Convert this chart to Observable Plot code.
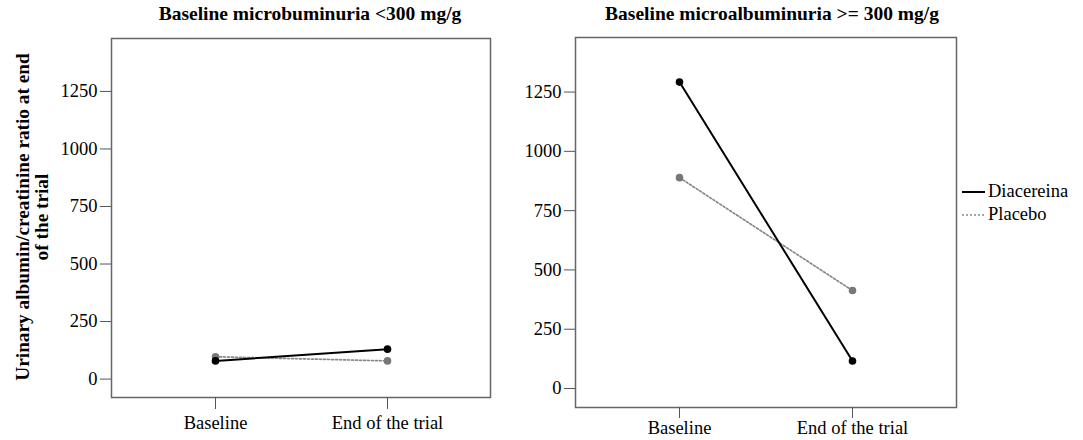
<!DOCTYPE html>
<html>
<head>
<meta charset="utf-8">
<script src="https://cdn.jsdelivr.net/npm/d3@7"></script>
<script src="https://cdn.jsdelivr.net/npm/@observablehq/plot@0.6"></script>
<style>
  body { margin: 0; background: #fff; }
  #wrap { position: relative; width: 1083px; height: 440px; font-family: "Liberation Serif", "Times New Roman", serif; color: #000; overflow: hidden; }
  .title { position: absolute; top: 3px; width: 500px; text-align: center; font-weight: bold; font-size: 19.5px; white-space: nowrap; }
  .ylab { position: absolute; left: 32px; top: 217px; transform: translate(-50%, -50%) rotate(-90deg); white-space: nowrap; text-align: center; font-weight: bold; font-size: 19.3px; line-height: 19px; }
  .chart { position: absolute; top: 0; }
  .legend { position: absolute; left: 962px; top: 180px; font-size: 18.5px; }
  .legend div { display: flex; align-items: center; height: 23px; }
  .legend svg { margin-right: 3px; }
</style>
</head>
<body>
<div id="wrap">
  <div class="title" style="left:60px;">Baseline microbuminuria &lt;300 mg/g</div>
  <div class="title" style="left:522px;">Baseline microalbuminuria &gt;= 300 mg/g</div>
  <div class="ylab">Urinary albumin/creatinine ratio at end<br>of the trial</div>
  <div class="legend">
    <div><svg width="23" height="10"><line x1="0" x2="23" y1="5" y2="5" stroke="#000" stroke-width="2"/></svg>Diacereina</div>
    <div><svg width="23" height="10"><line x1="0" x2="23" y1="5" y2="5" stroke="#888" stroke-width="1.5" stroke-dasharray="2,2"/></svg>Placebo</div>
  </div>
</div>
<script>
const timepoints = ["Baseline", "End of the trial"];
const seriesNames = ["Diacereina", "Placebo"];
const yTicks = [0, 250, 500, 750, 1000, 1250];

// Panel 1: baseline < 300 mg/g
const lowDiacereina = [79, 130];
const lowPlacebo = [97, 79];
// Panel 2: baseline >= 300 mg/g
const highDiacereina = [1292, 116];
const highPlacebo = [889, 413];

function rows(values, series) {
  return timepoints.map((t, i) => ({time: t, value: values[i], series}));
}

function panel(diac, plac, opts) {
  const dData = rows(diac, seriesNames[0]);
  const pData = rows(plac, seriesNames[1]);
  return Plot.plot({
    width: opts.width,
    height: 440,
    marginLeft: opts.ml,
    marginRight: opts.mr,
    marginTop: opts.mt,
    marginBottom: opts.mb,
    style: {fontFamily: "'Liberation Serif', 'Times New Roman', serif", fontSize: "18px", color: "#000", background: "transparent", overflow: "visible"},
    x: {type: "point", domain: timepoints, padding: 0.6, label: null},
    y: {domain: [-80, 1480], label: null},
    marks: [
      Plot.frame({stroke: "#666", strokeWidth: 1.5}),
      Plot.axisY({ticks: yTicks, tickFormat: d => String(d), tickSize: 11, tickPadding: 3, fontSize: 18.5, stroke: "#555", fill: "#000", label: null}),
      Plot.axisX({tickSize: opts.xsize, tickPadding: opts.xpad, fontSize: 18.5, stroke: "#555", fill: "#000", label: null}),
      Plot.line(pData, {x: "time", y: "value", stroke: "#888", strokeWidth: 1.7, strokeDasharray: "2,2"}),
      Plot.line(dData, {x: "time", y: "value", stroke: "#000", strokeWidth: 2}),
      Plot.dot(pData, {x: "time", y: "value", r: 3.8, fill: "#777", stroke: "none"}),
      Plot.dot(dData, {x: "time", y: "value", r: 3.8, fill: "#000", stroke: "none"})
    ]
  });
}

const wrap = document.getElementById("wrap");
const c1 = panel(lowDiacereina, lowPlacebo, {width: 500, ml: 111, mr: 10, mt: 38, mb: 43, xsize: 12, xpad: 6});
c1.classList.add("chart");
c1.style.left = "0px";
wrap.appendChild(c1);

const c2 = panel(highDiacereina, highPlacebo, {width: 583, ml: 75, mr: 127, mt: 37, mb: 33, xsize: 11, xpad: 2});
c2.classList.add("chart");
c2.style.left = "500px";
wrap.appendChild(c2);
</script>
</body>
</html>
